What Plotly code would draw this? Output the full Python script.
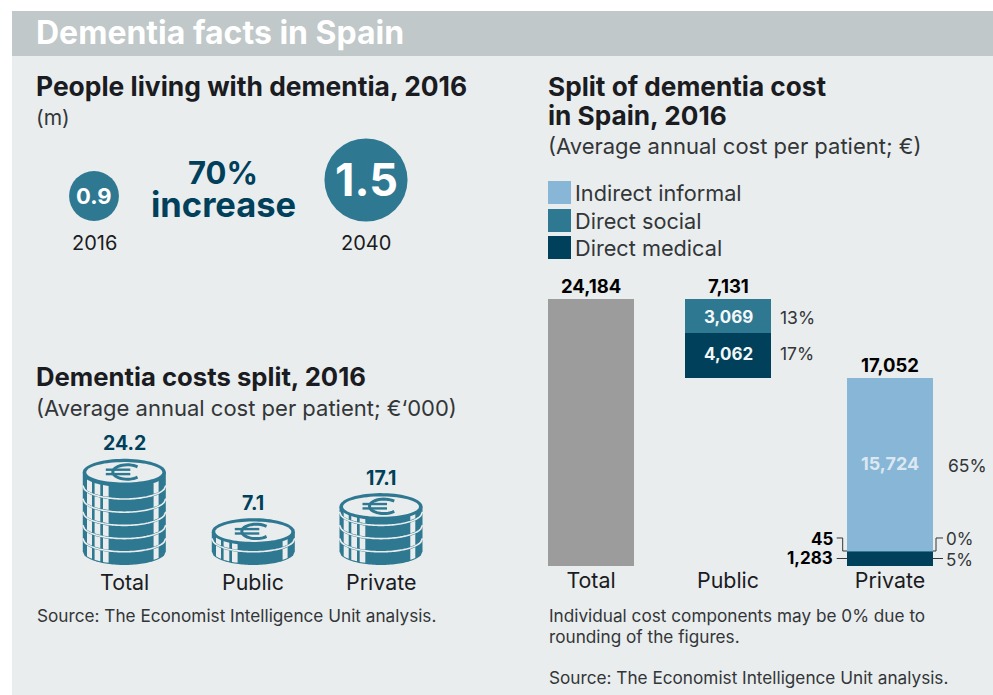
import numpy as np
import plotly.graph_objects as go

W, H = 993, 695
FONT = "Inter"

# ---- data ----
bubble_years = ["2016", "2040"]
bubble_values = [0.9, 1.5]
coin_categories = ["Total", "Public", "Private"]
coin_values = ["24.2", "7.1", "17.1"]
coin_rows = [6, 1.5, 3.4]
categories = ["Total", "Public", "Private"]
total_cost = [24184, 0, 0]
indirect_informal = [0, 0, 15724]
direct_social = [0, 3069, 45]
direct_medical = [0, 4062, 1283]
bar_totals = [24184, 7131, 17052]
public_share = ["13%", "17%"]
private_share = ["65%", "0%", "5%"]

TEAL, NAVY, LIGHT, GREY = "#2e7891", "#00405a", "#87b6d6", "#9c9c9c"
BG, HEAD, INK, SOFT = "#e9edee", "#c0c8c9", "#1b1b22", "#333638"


def px(x):
    return x / W


def py(y):
    return 1 - y / H


shapes, annos = [], []


def rect(x0, y0, x1, y1, color, layer="below"):
    shapes.append(dict(type="rect", xref="paper", yref="paper", x0=px(x0), x1=px(x1),
                       y0=py(y0), y1=py(y1), fillcolor=color, line_width=0, layer=layer))


def path(points, fill=None, line=None, width=0, close=True):
    d = "M " + " L ".join(f"{px(a):.5f},{py(b):.5f}" for a, b in points) + (" Z" if close else "")
    shapes.append(dict(type="path", xref="paper", yref="paper", path=d,
                       fillcolor=fill if fill else "rgba(0,0,0,0)",
                       line=dict(color=line if line else "rgba(0,0,0,0)", width=width), layer="above"))


def text(s, x, y, size, color=INK, bold=False, anchor="left", box_h=None):
    x = x - 2 if anchor == "left" else x + 2 if anchor == "right" else x
    a = dict(text=f"<b>{s}</b>" if bold else s, x=px(x), y=py(y), xref="paper", yref="paper",
             xanchor=anchor, yanchor="middle", showarrow=False,
             font=dict(family=FONT, size=size, color=color))
    if box_h:
        a["height"] = box_h
    annos.append(a)


# ---- panel ----
rect(12, 11, W, H, BG)
rect(12, 11, W, 56, HEAD)
text("Dementia facts in Spain", 36, 33, 32, "#ffffff", True)

# ---- people living with dementia ----
text("People living with dementia, 2016", 36, 86, 26.4, INK, True)
text("(m)", 36, 117, 21, SOFT)
text("70%", 223, 172, 31, NAVY, True, "center", box_h=28)
text("increase", 223, 204, 34.5, NAVY, True, "center", box_h=34)
text(f"{bubble_values[0]}", 94, 196, 22, "#ffffff", True, "center")
text(f"{bubble_values[1]}", 366, 180, 45, "#ffffff", True, "center")
text(bubble_years[0], 94, 243, 20, INK, False, "center")
text(bubble_years[1], 366, 243, 20, INK, False, "center")

# ---- coins ----
text("Dementia costs split, 2016", 36, 376, 25.7, INK, True)
text("(Average annual cost per patient; €‘000)", 36, 408, 22, SOFT)
RX, RY, STEP, BASE = 41.5, 13.5, 13.2, 565
coin_x = [124.3, 253.3, 381]
SLITS = [(-37.3, -32.3), (-29.7, -24), (-21.3, -15.7), (29.3, 34.3)]


def arc_y(cy, x):
    return cy + RY * np.sqrt(np.clip(1 - (x / RX) ** 2, 0, 1))


def coin_stack(cx, rows):
    low = BASE - RY
    top = low - rows * STEP
    xs = np.linspace(-RX, RX, 48)
    outline = [(cx - RX, top)] + [(cx + a, arc_y(low, a)) for a in xs] + [(cx + RX, top)]
    path(outline, fill=TEAL)
    n = int(np.ceil(rows))
    for k in range(n):
        for a, b in SLITS:
            seg = np.linspace(a, b, 5)
            lo = [(cx + v, arc_y(low - k * STEP, v) - 1.2) for v in seg]
            hi = [(cx + v, arc_y(low - (k + 1) * STEP, v) + 1.2) for v in seg[::-1]]
            path(lo + hi, fill=BG)
    for k in range(1, n):
        if k < rows:
            path([(cx + a, arc_y(low - k * STEP, a)) for a in xs], line=BG, width=1.6, close=False)
    ang = np.linspace(0, 2 * np.pi, 72)
    path([(cx + RX * np.cos(t), top + RY * np.sin(t)) for t in ang], fill=TEAL)
    path([(cx + 38 * np.cos(t), top + 10.2 * np.sin(t)) for t in ang], fill=BG)
    euro = np.linspace(np.radians(45), np.radians(315), 30)
    path([(cx + 3 + 14.5 * np.cos(t), top - 0.3 + 7.2 * np.sin(t)) for t in euro], line=TEAL, width=3, close=False)
    for off in (-2.6, 1.8):
        path([(cx - 18.5, top + off), (cx + 6, top + off)], line=TEAL, width=2.4, close=False)


for i, c in enumerate(coin_categories):
    coin_stack(coin_x[i], coin_rows[i])
    top_y = BASE - RY - coin_rows[i] * STEP - RY
    text(coin_values[i], coin_x[i], top_y - 15.5, 19.5, NAVY, True, "center")
    text(c, coin_x[i], 582, 21.4, INK, False, "center")
text("Source: The Economist Intelligence Unit analysis.", 37, 615, 17.2, SOFT)

# ---- cost split header and legend ----
text("Split of dementia cost", 548, 86, 26.2, INK, True)
text("in Spain, 2016", 548, 116, 26.2, INK, True)
text("(Average annual cost per patient; €)", 548, 146, 22, SOFT)
legend_names = ["Indirect informal", "Direct social", "Direct medical"]
legend_colors = [LIGHT, TEAL, NAVY]
for i, (n, col) in enumerate(zip(legend_names, legend_colors)):
    y0 = [181, 209, 236][i]
    rect(548, y0, 571, y0 + 23, col)
    text(n, 575, y0 + 12, 21.7, SOFT)

# ---- waterfall bars (real axis) ----
bar_x = [0, 137, 299]
BAR_W = 86
private_sum = direct_medical[2] + direct_social[2] + indirect_informal[2]
bases_med = [0, private_sum, 0]
bases_soc = [0, private_sum + direct_medical[1], direct_medical[2]]
bases_ind = [0, 0, direct_medical[2] + direct_social[2]]

fig = go.Figure()
fig.add_bar(x=bar_x, y=total_cost, width=BAR_W, marker=dict(color=GREY, line_width=0), name="Total", showlegend=False)
fig.add_bar(x=bar_x, y=direct_medical, base=bases_med, width=BAR_W, marker=dict(color=NAVY, line_width=0),
            name="Direct medical", showlegend=False)
fig.add_bar(x=bar_x, y=direct_social, base=bases_soc, width=BAR_W, marker=dict(color=TEAL, line_width=0),
            name="Direct social", showlegend=False)
fig.add_bar(x=bar_x, y=indirect_informal, base=bases_ind, width=BAR_W, marker=dict(color=LIGHT, line_width=0),
            name="Indirect informal", showlegend=False)
fig.add_scatter(x=[94, 366], y=[196, 180], mode="markers", xaxis="x2", yaxis="y2", showlegend=False,
                marker=dict(size=[v * 55.4 for v in bubble_values], color=TEAL, line_width=0, opacity=1))


def data_text(s, xd, yd, size, color, bold=True, anchor="center", xshift=0, yshift=0):
    annos.append(dict(text=f"<b>{s}</b>" if bold else s, x=xd, y=yd, xref="x", yref="y", xanchor=anchor,
                      yanchor="middle", xshift=xshift, yshift=yshift, showarrow=False,
                      font=dict(family=FONT, size=size, color=color)))


tops = [24184, bases_soc[1] + direct_social[1], private_sum]
for i, t in enumerate(bar_totals):
    data_text(f"{t:,}", bar_x[i], tops[i], 18.5, "#000000", yshift=13)
data_text(f"{direct_social[1]:,}", bar_x[1], bases_soc[1] + direct_social[1] / 2, 17, "#f4f7f8", yshift=-1)
data_text(f"{direct_medical[1]:,}", bar_x[1], bases_med[1] + direct_medical[1] / 2, 17, "#f4f7f8", yshift=1)
data_text(f"{indirect_informal[2]:,}", bar_x[2], bases_ind[2] + indirect_informal[2] / 2, 18, "#dbe8f1", yshift=1)
data_text(public_share[0], bar_x[1], bases_soc[1] + direct_social[1] / 2, 17.5, SOFT, False, "left", xshift=50, yshift=-2)
data_text(public_share[1], bar_x[1], bases_med[1] + direct_medical[1] / 2, 17.5, SOFT, False, "left", xshift=50, yshift=2)
data_text(private_share[0], bar_x[2], bases_ind[2] + indirect_informal[2] / 2, 17.5, SOFT, False, "left", xshift=56, yshift=-1)

text(f"{direct_social[2]}", 833, 539, 17, "#000000", True, "right")
text(f"{direct_medical[2]:,}", 833, 558, 17, "#000000", True, "right")
text(private_share[1], 946, 539, 17, SOFT)
text(private_share[2], 946, 560, 17, SOFT)
path([(836.7, 538), (842.7, 538), (842.7, 551), (847, 551)], line=SOFT, width=1, close=False)
path([(836.7, 558.5), (847, 558.5)], line=SOFT, width=1, close=False)
path([(933, 551), (936, 551), (936, 538), (943, 538)], line=SOFT, width=1, close=False)
path([(933, 558.5), (943, 558.5)], line=SOFT, width=1, close=False)

text("Individual cost components may be 0% due to", 549, 615, 17.2, SOFT)
text("rounding of the figures.", 549, 636, 17.2, SOFT)
text("Source: The Economist Intelligence Unit analysis.", 549, 677, 17.2, SOFT)

fig.update_layout(
    width=W, height=H, margin=dict(l=0, r=0, t=0, b=0), autosize=False,
    paper_bgcolor="#ffffff", plot_bgcolor="rgba(0,0,0,0)", barmode="overlay", showlegend=False,
    bargap=0, shapes=shapes, annotations=annos,
    xaxis=dict(domain=[548 / W, 933 / W], range=[-43, 342], tickvals=bar_x, ticktext=categories,
               showgrid=False, zeroline=False, showline=False, ticks="", fixedrange=True,
               tickfont=dict(family=FONT, size=21.4, color=INK)),
    yaxis=dict(domain=[1 - 566 / H, 1 - 299 / H], range=[0, 24184], visible=False, fixedrange=True),
    xaxis2=dict(domain=[0, 1], range=[0, W], visible=False, anchor="y2", fixedrange=True),
    yaxis2=dict(domain=[0, 1], range=[H, 0], visible=False, anchor="x2", fixedrange=True),
)
fig.write_html("out.html", config={"displayModeBar": False},
               post_script="document.body.style.margin='0';document.documentElement.style.overflow='hidden';")
